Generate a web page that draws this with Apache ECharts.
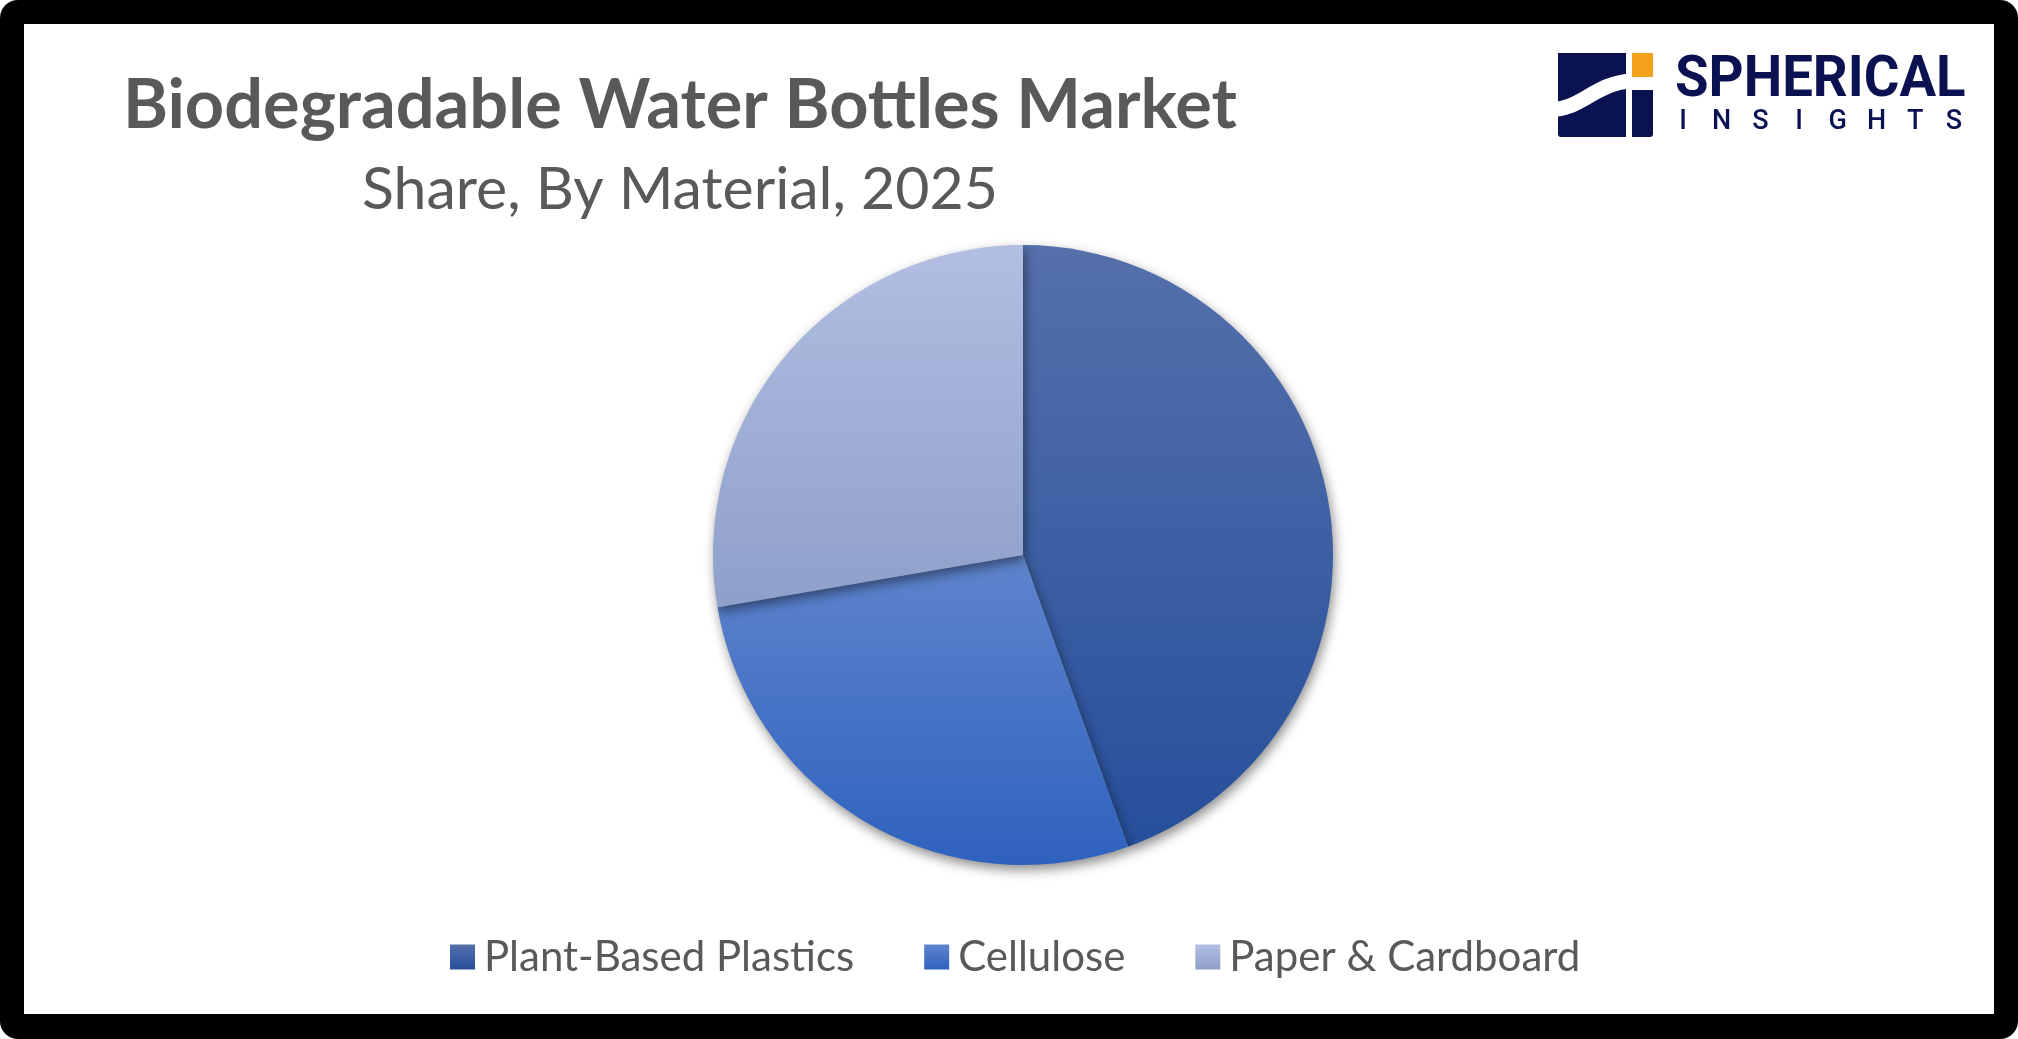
<!DOCTYPE html>
<html><head><meta charset="utf-8">
<script src="https://cdn.jsdelivr.net/npm/echarts@6/dist/echarts.min.js"></script>
<style>html,body{margin:0;padding:0;background:#fff}#c{width:2018px;height:1039px}</style>
</head><body><div id="c"></div>
<script>
const categories = ['Plant-Based Plastics', 'Cellulose', 'Paper & Cardboard'];
const shares = [44.5, 27.8, 27.7];
const titleText = 'Biodegradable Water Bottles Market';
const subtitleText = 'Share, By Material, 2025';

const grads = [
  ['#5570AB', '#264F9B'],
  ['#5F84CD', '#2E62BE'],
  ['#B2BEE2', '#8E9FCA']
];
function lg(c) {
  return new echarts.graphic.LinearGradient(0, 0, 0, 1, [{offset: 0, color: c[0]}, {offset: 1, color: c[1]}]);
}
const FONT = 'Lato';
const NAVY = '#0B1252';
const insightLetters = 'INSIGHTS'.split('').map((ch, i) => ({
  type: 'text', z: 5, x: 1683 + i * 38.7, y: 136,
  style: {text: ch, font: '500 27px Roboto', fill: NAVY, textAlign: 'center', textVerticalAlign: 'bottom'}
}));
const chart = echarts.init(document.getElementById('c'), null, {renderer: 'canvas'});
chart.setOption({
  backgroundColor: 'transparent',
  animation: false,
  title: [
    {text: titleText, left: 675, textAlign: 'center', top: 66,
     textStyle: {fontFamily: FONT, fontWeight: 'bold', fontSize: 68.5, color: '#595959'}},
    {text: subtitleText, left: 675, textAlign: 'center', top: 155,
     textStyle: {fontFamily: FONT, fontWeight: 'normal', fontSize: 59, color: '#595959'}}
  ],
  legend: {
    left: 450, top: 936, orient: 'horizontal', padding: 0,
    itemWidth: 25, itemHeight: 25, itemGap: 70, icon: 'rect',
    textStyle: {fontFamily: FONT, fontSize: 42, color: '#595959', padding: [0, 0, 0, 4]},
    data: categories
  },
  graphic: [
    {type: 'rect', z: -10, shape: {x: 0, y: 0, width: 2018, height: 1039, r: 18}, style: {fill: '#000'}},
    {type: 'rect', z: -9, shape: {x: 24, y: 24, width: 1970, height: 990}, style: {fill: '#fff'}},
    // logo
    {type: 'rect', z: 5, shape: {x: 1558, y: 53, width: 68, height: 84, r: [0, 0, 0, 3]}, style: {fill: NAVY}},
    {type: 'bezierCurve', z: 6, shape: {x1: 1550, y1: 109, cpx1: 1578, cpy1: 112, cpx2: 1596, cpy2: 82, x2: 1632, y2: 81},
     style: {stroke: '#fff', lineWidth: 15, fill: null}},
    {type: 'rect', z: 5, shape: {x: 1632, y: 53, width: 21, height: 24}, style: {fill: '#F5A01E'}},
    {type: 'rect', z: 7, shape: {x: 1632, y: 90, width: 21, height: 47, r: [0, 0, 3, 0]}, style: {fill: NAVY}},
    {type: 'text', z: 5, x: 1675, y: 110, scaleX: 0.94,
     style: {text: 'SPHERICAL', font: 'bold 58px Roboto', fill: NAVY, textAlign: 'left', textVerticalAlign: 'bottom'}}
  ].concat(insightLetters),
  series: [{
    type: 'pie',
    center: [1023, 555],
    radius: 310,
    startAngle: 90,
    clockwise: true,
    label: {show: false},
    labelLine: {show: false},
    emphasis: {disabled: true},
    itemStyle: {shadowBlur: 12, shadowOffsetX: 2, shadowOffsetY: 5, shadowColor: 'rgba(0,0,0,0.45)'},
    data: categories.map((n, i) => ({name: n, value: shares[i], itemStyle: {color: lg(grads[i])}}))
  }]
});
</script></body></html>
